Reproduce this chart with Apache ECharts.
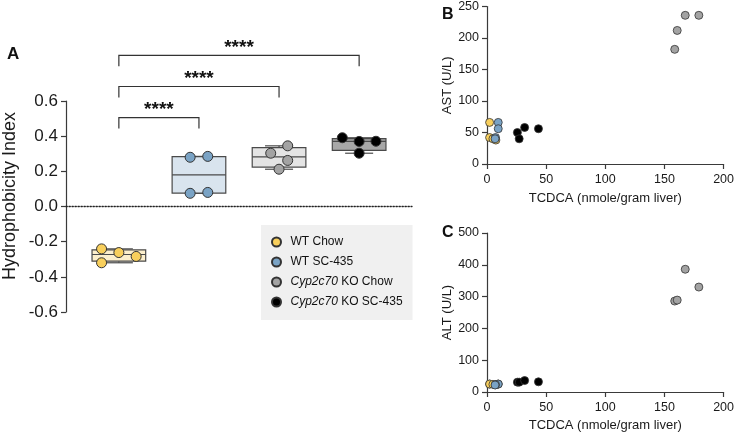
<!DOCTYPE html>
<html><head><meta charset="utf-8">
<script src="https://cdn.jsdelivr.net/npm/echarts@6/dist/echarts.min.js"></script>
<style>html,body{margin:0;padding:0;background:#fff}#c{width:737px;height:434px}</style>
</head><body><div id="c"></div>
<script>
// ---------- DATA ----------
const groups = ['WT Chow', 'WT SC-435', 'Cyp2c70 KO Chow', 'Cyp2c70 KO SC-435'];
// Panel A: hydrophobicity index per mouse
const hiWTChow  = [-0.241, -0.262, -0.284, -0.320];
const hiWTSC    = [0.280, 0.285, 0.075, 0.080];
const hiKOChow  = [0.345, 0.303, 0.262, 0.212];
const hiKOSC    = [0.391, 0.370, 0.371, 0.303];
// horizontal spread of points within a category (category units)
const jitWTChow = [-0.216, 0, 0.216, -0.216];
const jitWTSC   = [-0.11, 0.11, -0.11, 0.11];
const jitKOChow = [0.108, -0.104, 0.108, 0];
const jitKOSC   = [-0.21, 0, 0.21, 0];
const hiTicks = [-0.6, -0.4, -0.2, 0.0, 0.2, 0.4, 0.6];
// significance comparisons (group index pairs)
const sigFrom = [0, 0, 0];
const sigTo   = [1, 2, 3];
const sigText = ['****', '****', '****'];
// Panels B/C: TCDCA (nmole/gram liver), AST (U/L), ALT (U/L)
const tcdcaWTChow = [2.2, 2.2, 5.0, 7.5];
const astWTChow   = [66, 42, 40, 38];
const altWTChow   = [25, 25, 24, 23];
const tcdcaWTSC   = [9.5, 9.5, 7.2, 6.8];
const astWTSC     = [66, 56, 42, 40];
const altWTSC     = [25, 25, 23, 22];
const tcdcaKOChow = [158.7, 160.8, 167.6, 179.1];
const astKOChow   = [182, 212, 236, 236];
const altKOChow   = [286, 289, 386, 330];
const tcdcaKOSC   = [25.7, 27.2, 31.8, 43.5];
const astKOSC     = [50, 40, 58, 56];
const altKOSC     = [31, 31, 36, 32];

// ---------- STYLE ----------
const FONT = 'Liberation Sans, Arial, Helvetica, sans-serif';
const fills = ['#f8cf5c', '#7aa3c5', '#a3a3a3', '#000000'];
const boxFills = ['#fcefcc', '#d9e4ee', '#e4e4e4', '#a8a8a8'];
const AX = '#3a3a3a';

const hiSets = [hiWTChow, hiWTSC, hiKOChow, hiKOSC];
const jitSets = [jitWTChow, jitWTSC, jitKOChow, jitKOSC];
const tcdcaSets = [tcdcaWTChow, tcdcaWTSC, tcdcaKOChow, tcdcaKOSC];
const astSets = [astWTChow, astWTSC, astKOChow, astKOSC];
const altSets = [altWTChow, altWTSC, altKOChow, altKOSC];

function quant(s, p) {
  const n = s.length, pos = p * (n + 1);
  if (pos <= 1) return s[0];
  if (pos >= n) return s[n - 1];
  const lo = Math.floor(pos);
  return s[lo - 1] + (pos - lo) * (s[lo] - s[lo - 1]);
}
const boxData = hiSets.map((v, i) => {
  const s = v.slice().sort((a, b) => a - b);
  return [i, s[0], quant(s, 0.25), quant(s, 0.5), quant(s, 0.75), s[s.length - 1]];
});

const series = [];
series.push({
  type: 'custom', xAxisIndex: 0, yAxisIndex: 0, z: 2, clip: false,
  data: boxData,
  renderItem(params, api) {
    const x = api.value(0);
    const unit = api.size([1, 0])[0];
    const hw = 0.335 * unit, cw = 0.175 * unit;
    const c = api.coord([x, 0])[0];
    const y = k => api.coord([x, api.value(k)])[1];
    const line = (x1, y1, x2, y2) => ({ type: 'line', shape: { x1, y1, x2, y2 }, style: { stroke: '#4a4a4a', lineWidth: 1.2 } });
    return { type: 'group', children: [
      line(c, y(5), c, y(4)), line(c, y(2), c, y(1)),
      line(c - cw, y(5), c + cw, y(5)), line(c - cw, y(1), c + cw, y(1)),
      { type: 'rect', shape: { x: c - hw, y: y(4), width: 2 * hw, height: y(2) - y(4) },
        style: { fill: boxFills[params.dataIndex], stroke: '#4a4a4a', lineWidth: 1.2 } },
      line(c - hw, y(3), c + hw, y(3))
    ] };
  }
});
// significance brackets
series.push({
  type: 'custom', xAxisIndex: 0, yAxisIndex: 0, z: 2, clip: false, silent: true,
  data: sigFrom.map((f, i) => [f, sigTo[i], i]),
  renderItem(params, api) {
    const a = api.value(0), b = api.value(1), i = api.value(2);
    const top = 0.506 + i * 0.1765, leg = 0.062;
    const p1 = api.coord([a, top]), p2 = api.coord([b, top]);
    const yb = api.coord([a, top - leg])[1];
    return { type: 'group', children: [
      { type: 'polyline', shape: { points: [[p1[0], yb], p1, p2, [p2[0], yb]] },
        style: { fill: null, stroke: '#333', lineWidth: 1.2 } },
      { type: 'text', x: (p1[0] + p2[0]) / 2, y: p1[1] + 2,
        style: { text: sigText[i], font: 'bold 19px ' + FONT, fill: '#111', align: 'center', verticalAlign: 'bottom' } }
    ] };
  }
});
groups.forEach((g, gi) => {
  series.push({
    name: g, type: 'scatter', xAxisIndex: 0, yAxisIndex: 0, z: 4,
    symbolSize: 10,
    itemStyle: { color: fills[gi], borderColor: '#333', borderWidth: 1, opacity: 1 },
    data: hiSets[gi].map((v, k) => [gi + jitSets[gi][k], v])
  });
  series.push({
    name: g, type: 'scatter', xAxisIndex: 1, yAxisIndex: 1, z: 4,
    symbolSize: 8,
    itemStyle: { color: fills[gi], borderColor: '#333', borderWidth: 0.8, opacity: 1 },
    data: tcdcaSets[gi].map((v, k) => [v, astSets[gi][k]])
  });
  series.push({
    name: g, type: 'scatter', xAxisIndex: 2, yAxisIndex: 2, z: 4,
    symbolSize: 8,
    itemStyle: { color: fills[gi], borderColor: '#333', borderWidth: 0.8, opacity: 1 },
    data: tcdcaSets[gi].map((v, k) => [v, altSets[gi][k]])
  });
});

const axLine = { show: true, onZero: false, lineStyle: { color: AX, width: 1.2 } };
const axTick = { show: true, inside: false, length: 5, lineStyle: { color: AX, width: 1.2 } };

function xyAxis(gridIndex, min, max, interval, name, nameGap, extra) {
  return Object.assign({
    type: 'value', gridIndex, min, max, interval,
    axisLine: axLine, axisTick: axTick,
    splitLine: { show: false },
    axisLabel: { fontFamily: FONT, fontSize: 12.5, color: '#1a1a1a', margin: 8 },
    name, nameLocation: 'middle', nameGap,
    nameTextStyle: { fontFamily: FONT, fontSize: 13, color: '#1a1a1a' }
  }, extra || {});
}

const option = {
  animation: false,
  backgroundColor: '#fff',
  grid: [
    { left: 66, top: 101, width: 346, height: 211 },
    { left: 487, top: 5, width: 239, height: 159 },
    { left: 487, top: 233, width: 239, height: 159 }
  ],
  xAxis: [
    { type: 'value', gridIndex: 0, min: -0.66, max: 3.66,
      axisLine: { show: true, onZero: true, lineStyle: { color: '#222', width: 1.3, type: [1.3, 1.7] } },
      axisTick: { show: false }, axisLabel: { show: false }, splitLine: { show: false } },
    xyAxis(1, 0, 200, 50, 'TCDCA (nmole/gram liver)', 28, { axisLabel: { fontFamily: FONT, fontSize: 12.5, color: '#1a1a1a', margin: 9 } }),
    xyAxis(2, 0, 200, 50, 'TCDCA (nmole/gram liver)', 27, { axisLabel: { fontFamily: FONT, fontSize: 12.5, color: '#1a1a1a', margin: 9 } })
  ],
  yAxis: [
    { type: 'value', gridIndex: 0, min: hiTicks[0], max: hiTicks[hiTicks.length - 1], interval: 0.2,
      axisLine: axLine, axisTick: axTick, splitLine: { show: false },
      axisLabel: { fontFamily: FONT, fontSize: 17, color: '#1a1a1a', margin: 8,
        formatter: v => (Math.abs(v) < 1e-9 ? 0 : v).toFixed(1) } },
    xyAxis(1, 0, 250, 50, 'AST (U/L)', 32),
    xyAxis(2, 0, 500, 100, 'ALT (U/L)', 32)
  ],
  legend: {
    data: groups, orient: 'vertical', left: 261, top: 225,
    backgroundColor: '#f0f0f0', padding: [10, 10, 11, 10],
    itemWidth: 18, itemHeight: 9, itemGap: 6, icon: 'circle',
    formatter: n => n.replace('Cyp2c70', '{i|Cyp2c70}'),
    textStyle: { fontFamily: FONT, fontSize: 12, color: '#111', lineHeight: 14,
      rich: { i: { fontFamily: FONT, fontSize: 12, fontStyle: 'italic', color: '#111' } } },
    selectedMode: false
  },
  graphic: [
    { type: 'text', x: 10, y: 196, rotation: Math.PI / 2,
      style: { text: 'Hydrophobicity Index', font: '18px ' + FONT, fill: '#1a1a1a', align: 'center', verticalAlign: 'middle' } },
    { type: 'text', left: 7, top: 46, style: { text: 'A', font: 'bold 17px ' + FONT, fill: '#111' } },
    { type: 'text', left: 442, top: 7, style: { text: 'B', font: 'bold 16px ' + FONT, fill: '#111' } },
    { type: 'text', left: 442, top: 225, style: { text: 'C', font: 'bold 16px ' + FONT, fill: '#111' } }
  ],
  series
};
const chart = echarts.init(document.getElementById('c'), null, { renderer: 'canvas' });
chart.setOption(option);
</script></body></html>
